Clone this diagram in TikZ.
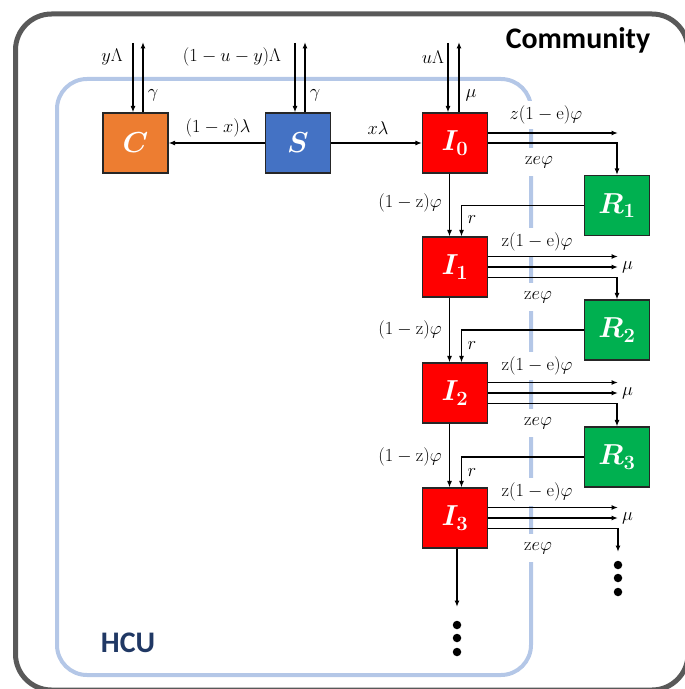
\RequirePackage{fix-cm}
\documentclass[tikz,border=0pt]{standalone}
\usepackage{fontspec}
\newfontfamily\calib{Carlito}
\usetikzlibrary{arrows.meta,calc}
\definecolor{cOrange}{HTML}{ED7D31}
\definecolor{cBlue}{HTML}{4472C4}
\definecolor{cRed}{HTML}{FF0000}
\definecolor{cGreen}{HTML}{00B050}
\definecolor{hcu}{HTML}{B4C7E7}
\definecolor{comm}{HTML}{595959}
\definecolor{navy}{HTML}{203864}
\begin{document}
\begin{tikzpicture}[x=1bp,y=-1bp,
  box/.style={draw=black!85,line width=1.1bp,minimum width=65bp,minimum height=60bp,inner sep=0pt,text=white,font=\fontsize{29}{31}\selectfont\boldmath},
  arr/.style={line width=1.4bp,-{Latex[length=6.5bp,width=5bp]}},
  lab/.style={font=\fontsize{18.5}{20}\selectfont,inner sep=1bp},
  gap/.style={lab,fill=white,minimum height=28bp},
  dot/.style={circle,fill=black,inner sep=0pt,minimum size=8.5bp},
  title/.style={font=\calib\bfseries\fontsize{30}{32}\selectfont}]
\useasboundingbox (0,0) rectangle (685,689);
% frames
\draw[comm,line width=5bp,rounded corners=36bp] (15.5,14) rectangle (688,690);
\draw[hcu,line width=4bp,rounded corners=30bp] (57,79) rectangle (531,675);
\node[title,text=black] (comm) at (578,40) {Community};
\node[title,text=navy] (hcuname) at (128,643) {HCU};
% boxes
\node[box,fill=cOrange] (C) at (135.5,143) {$C$};
\node[box,fill=cBlue] (S) at (298,143) {$S$};
\node[box,fill=cRed] (I0) at (455,143) {$I_0$};
\node[box,fill=cRed] (I1) at (455,267) {$I_1$};
\node[box,fill=cRed] (I2) at (455,393) {$I_2$};
\node[box,fill=cRed] (I3) at (455,518) {$I_3$};
\node[box,fill=cGreen] (R1) at (617,205.5) {$R_1$};
\node[box,fill=cGreen] (R2) at (617,330) {$R_2$};
\node[box,fill=cGreen] (R3) at (617,457) {$R_3$};
% labels that cut the HCU border
\node[gap] (l0a) at (546,115) {$z(1-\mathrm{e})\varphi$};
\node[gap] (l0b) at (539,162) {$\mathrm{z}e\varphi$};
\node[gap] (l1a) at (537,242) {$\mathrm{z}(1-\mathrm{e})\varphi$};
\node[gap] (l1b) at (538,297) {$\mathrm{z}e\varphi$};
\node[gap] (l2a) at (537,366) {$\mathrm{z}(1-\mathrm{e})\varphi$};
\node[gap] (l2b) at (538,423) {$\mathrm{z}e\varphi$};
\node[gap] (l3a) at (537,492) {$\mathrm{z}(1-\mathrm{e})\varphi$};
\node[gap] (l3b) at (538,548) {$\mathrm{z}e\varphi$};
% top in/out flows
\coordinate (Cin) at (133,43);
\coordinate (Cout) at (143,42);
\coordinate (Sin) at (295,43);
\coordinate (Sout) at (305,42);
\coordinate (Iin) at (448,43);
\coordinate (Iout) at (459,42);
\draw[arr] (Cin) -- (Cin |- C.north);
\draw[arr] (Cout |- C.north) -- (Cout);
\draw[arr] (Sin) -- (Sin |- S.north);
\draw[arr] (Sout |- S.north) -- (Sout);
\draw[arr] (Iin) -- (Iin |- I0.north);
\draw[arr] (Iout |- I0.north) -- (Iout);
\node[lab] (yL) at (112,57) {$y\Lambda$};
\node[lab] (uyL) at (232,57) {$(1-u-y)\Lambda$};
\node[lab] (uL) at (433,57) {$u\Lambda$};
\node[lab] (g1) at (153,95) {$\gamma$};
\node[lab] (g2) at (315,95) {$\gamma$};
\node[lab] (m0) at (471,95) {$\mu$};
% S flows
\draw[arr] (S.west) -- (C.east);
\draw[arr] (S.east) -- (I0.west);
\node[lab] (xl1) at (218,128) {$(1-x)\lambda$};
\node[lab] (xl2) at (378,128) {$x\lambda$};
% I0 right flows
\coordinate (xe) at (618,0);
\draw[arr] ([yshift=10bp]I0.east) -- ([yshift=10bp]I0.east -| xe);
\draw[arr] (I0.east) -| (R1.north);
% I_k right flows
\foreach \i/\r in {1/R2,2/R3}{
  \draw[arr] ([yshift=10.5bp]I\i.east) -- ([yshift=10.5bp]I\i.east -| xe);
  \draw[arr] (I\i.east) -- (I\i.east -| xe);
  \draw[arr] ([yshift=-10.5bp]I\i.east) -| (\r.north);
  \node[lab,anchor=west] (mu\i) at ([xshift=3bp]I\i.east -| xe) {$\mu$};
}
\coordinate (rd) at (618,552);
\draw[arr] ([yshift=10.5bp]I3.east) -- ([yshift=10.5bp]I3.east -| xe);
\draw[arr] (I3.east) -- (I3.east -| xe);
\draw[arr] ([yshift=-10.5bp]I3.east) -| (rd);
\node[lab,anchor=west] (mu3) at ([xshift=3bp]I3.east -| xe) {$\mu$};
\node[dot] (d1) at (618,565) {};
\node[dot] (d2) at (618,578) {};
\node[dot] (d3) at (618,592) {};
% vertical progression
\foreach \a/\b/\r in {I0/I1/R1,I1/I2/R2,I2/I3/R3}{
  \draw[arr] ([xshift=-5.5bp]\a.south) -- ([xshift=-5.5bp]\b.north);
  \draw[arr] (\r.west) -| ([xshift=6.5bp]\b.north);
}
\node[lab] (z1) at (410,203) {$(1-\mathrm{z})\varphi$};
\node[lab] (z2) at (410,330) {$(1-\mathrm{z})\varphi$};
\node[lab] (z3) at (410,457) {$(1-\mathrm{z})\varphi$};
\node[lab] (r1) at (472,220) {$r$};
\node[lab] (r2) at (472,346) {$r$};
\node[lab] (r3) at (472,473) {$r$};
\coordinate (dd) at (457,607);
\draw[arr] (I3.south -| dd) -- (dd);
\node[dot] (e1) at (457,625) {};
\node[dot] (e2) at (457,638) {};
\node[dot] (e3) at (457,652) {};
\end{tikzpicture}
\end{document}
